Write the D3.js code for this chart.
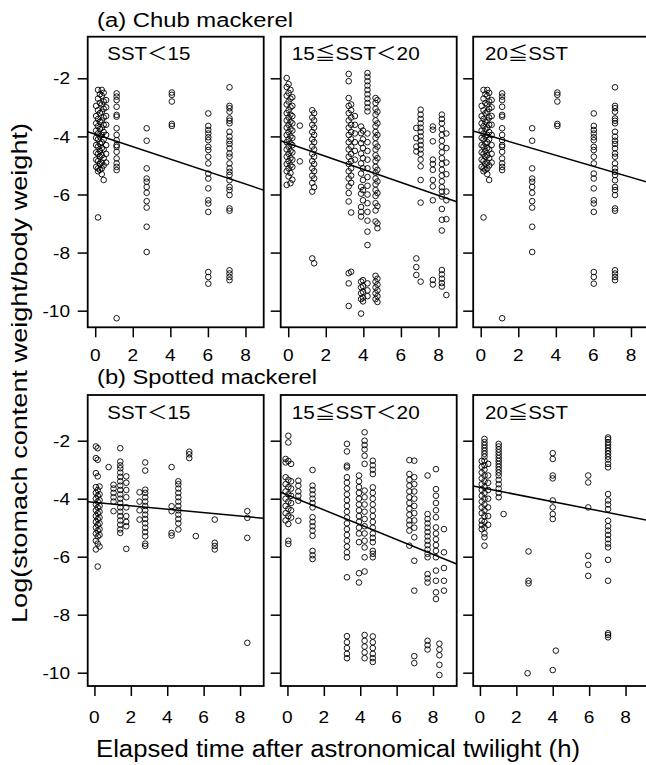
<!DOCTYPE html>
<html><head><meta charset="utf-8">
<script src="https://cdn.jsdelivr.net/npm/d3@7"></script>
<style>
body{margin:0;background:#fff}
svg{display:block}
text{font-family:"Liberation Sans",Arial,"Noto Sans CJK JP",sans-serif;fill:#000}
</style>
</head><body><svg id="c" width="646" height="765"></svg>
<script>
// ---------- data ----------
const timeTicks = [0, 2, 4, 6, 8];
const logTicks = [-2, -4, -6, -8, -10];
const sstLabels = ["SST＜15", "15≦SST＜20", "20≦SST"];
const speciesTitles = ["(a) Chub mackerel", "(b) Spotted mackerel"];
const xTitle = "Elapsed time after astronomical twilight (h)";
const yTitle = "Log(stomach content weight/body weight)";

// each entry: [elapsed time, [log ratios...]]
const chubLow = [
  [0.05, [-2.95,-3.3,-3.55,-3.8,-4.05,-4.3,-4.55,-4.8,-5.05]],
  [0.15, [-2.4,-2.7,-3.1,-3.4,-3.65,-3.9,-4.1,-4.35,-4.6,-4.85,-5.1,-5.2,-6.79]],
  [0.25, [-2.55,-2.85,-3.2,-3.5,-3.75,-4.0,-4.25,-4.5,-4.7,-4.95,-5.15]],
  [0.35, [-2.4,-2.6,-2.9,-3.15,-3.45,-3.7,-3.95,-4.2,-4.4,-4.65,-4.9,-5.1,-5.3]],
  [0.45, [-2.5,-2.8,-3.05,-3.35,-3.6,-3.85,-4.1,-4.45,-4.75,-5.0,-5.5]],
  [0.58, [-2.75,-3.0,-3.3,-3.6,-3.95,-4.3,-4.6,-4.9]],
  [1.14, [-2.52,-2.63,-2.75,-2.98,-3.26,-3.32,-3.72,-3.95,-4.13,-4.3,-4.36,-4.53,-4.76,-4.93,-5.05,-5.16,-10.26]],
  [2.74, [-3.72,-4.15,-5.1,-5.45,-5.56,-5.74,-5.94,-6.23,-6.45,-7.11,-7.98]],
  [4.08, [-2.49,-2.57,-2.8,-3.57,-3.64]],
  [6.02, [-3.21,-3.64,-3.78,-3.9,-4.03,-4.13,-4.36,-4.47,-4.7,-4.93,-5.28,-5.45,-5.79,-6.2,-6.31,-6.6,-8.67,-8.84,-9.07]],
  [7.15, [-2.31,-2.95,-3.03,-3.15,-3.38,-3.46,-3.55,-3.84,-4.01,-4.15,-4.26,-4.41,-4.59,-4.7,-4.93,-5.1,-5.22,-5.33,-5.51,-5.74,-5.85,-6.02,-6.48,-6.56,-8.61,-8.72,-8.84,-8.95]]
];
const chubMid = [
  [-0.08, [-1.99,-2.3,-2.6,-2.9,-3.2,-3.45,-3.7,-3.95,-4.2,-4.45,-4.7,-4.95,-5.2,-5.67]],
  [0.02, [-2.2,-2.5,-2.8,-3.1,-3.35,-3.6,-3.85,-4.1,-4.35,-4.6,-4.85,-5.1,-5.38]],
  [0.12, [-2.4,-2.7,-3.0,-3.25,-3.5,-3.75,-4.0,-4.25,-4.5,-4.75,-5.0,-5.26,-5.61]],
  [0.22, [-2.65,-2.95,-3.3,-3.55,-3.8,-4.05,-4.3,-4.55,-4.8,-5.05,-5.49]],
  [0.62, [-3.63,-4.86]],
  [1.28, [-3.1,-3.35,-3.6,-3.85,-4.1,-4.35,-4.6,-4.85,-5.1,-5.35,-5.6,-5.9,-8.2]],
  [1.38, [-3.2,-3.45,-3.7,-3.95,-4.2,-4.45,-4.7,-4.95,-5.2,-5.45,-5.75,-8.37]],
  [3.22, [-1.85,-2.1,-2.68,-2.95,-3.2,-3.45,-3.7,-3.95,-4.2,-4.45,-4.7,-4.95,-5.2,-5.45,-5.72,-5.95,-6.24,-8.71,-9.06,-9.84]],
  [3.35, [-2.9,-3.1,-3.35,-3.6,-3.85,-4.1,-4.35,-4.6,-4.85,-5.1,-5.35,-5.6,-6.62,-8.66]],
  [3.55, [-3.3,-3.6,-3.9,-4.2,-4.5,-4.8]],
  [3.88, [-3.66,-3.89,-4.23,-4.59,-4.93,-5.28,-5.74,-5.97,-6.43,-6.6,-6.76,-9.0,-9.2,-9.4,-9.6,-10.1]],
  [3.98, [-3.8,-4.1,-4.4,-4.75,-5.1,-5.5,-5.85,-6.2,-8.95,-9.15,-9.35,-9.55,-9.68]],
  [4.22, [-1.82,-1.95,-2.1,-2.25,-2.4,-2.55,-2.7,-2.85,-3.0,-3.14,-3.9,-4.2,-4.5,-4.8,-5.1,-5.4,-5.7,-6.0,-6.3,-6.6,-6.9,-7.28,-7.74,-9.06,-9.3,-9.5]],
  [4.65, [-2.68,-2.85,-3.05,-3.25,-3.45,-3.65,-3.85,-4.05,-4.25,-4.45,-4.65,-4.85,-5.05,-5.25,-5.45,-5.65,-5.85,-6.05,-6.3,-6.55,-6.93,-8.8,-9.0,-9.2,-9.4,-9.6]],
  [4.75, [-2.75,-3.15,-3.55,-3.95,-4.35,-4.75,-5.15,-5.55,-5.95,-6.4,-7.0,-7.16,-8.9,-9.1,-9.3,-9.5,-9.7]],
  [6.82, [-3.71,-4.06,-4.35,-4.52,-8.2,-8.5,-8.77]],
  [7.05, [-3.08,-3.25,-3.4,-3.55,-3.7,-3.85,-4.0,-4.15,-4.3,-4.45,-4.6,-4.8,-5.03,-5.5,-6.28,-9.0]],
  [7.7, [-3.66,-3.77,-4.17,-4.8,-4.95,-5.15,-5.5,-5.72,-6.2,-8.94,-9.1]],
  [8.18, [-3.25,-3.4,-3.55,-3.75,-3.95,-4.15,-4.35,-4.55,-4.75,-4.95,-5.15,-5.35,-5.55,-5.75,-5.9,-6.07,-6.5,-6.87,-7.24,-8.6,-8.75,-8.9,-9.05,-9.17]],
  [8.42, [-3.9,-4.4,-4.9,-5.3,-5.9,-6.2,-6.85,-9.46]]
];
// the source's 20≦SST chub panel shows the same points as SST<15
const chubHigh = chubLow;

const spottedLow = [
  [0.08, [-2.2,-2.6,-3.12,-3.6,-3.8,-4.0,-4.2,-4.4,-4.6,-4.8,-5.0,-5.2,-5.45,-5.75]],
  [0.18, [-2.26,-2.66,-3.23,-3.7,-3.9,-4.1,-4.3,-4.5,-4.7,-4.9,-5.1,-5.3,-5.55,-6.34]],
  [0.28, [-3.58,-3.85,-4.05,-4.25,-4.45,-4.65,-4.85,-5.05,-5.25,-5.65]],
  [0.78, [-2.91]],
  [1.05, [-3.52,-3.65,-3.8,-3.95,-4.1,-4.43]],
  [1.42, [-2.26,-2.72,-2.85,-2.95,-3.1,-3.25,-3.4,-3.55,-3.7,-3.85,-4.0,-4.15,-4.3,-4.45,-4.6,-4.75,-4.9,-5.06,-5.18]],
  [1.75, [-3.23,-3.45,-3.7,-3.95,-4.3,-4.6,-4.8,-4.95,-5.73]],
  [2.48, [-3.78,-4.1,-4.4,-4.72]],
  [2.79, [-2.75,-3.03,-3.69,-3.8,-3.95,-4.1,-4.25,-4.4,-4.55,-4.7,-4.85,-5.0,-5.15,-5.3,-5.55,-5.63]],
  [4.24, [-2.91,-4.26,-4.43,-5.18,-5.27]],
  [4.61, [-3.4,-3.5,-3.65,-3.8,-3.95,-4.1,-4.25,-4.4,-4.55,-4.7,-4.85,-5.06]],
  [5.21, [-2.38,-2.47,-2.6]],
  [5.57, [-5.29]],
  [6.61, [-4.72,-5.52,-5.63,-5.75]],
  [8.4, [-4.43,-4.66,-5.35,-8.97]]
];
const spottedMid = [
  [-0.1, [-2.63,-2.75,-3.26,-3.5,-3.75,-4.0,-4.25,-4.5,-4.75]],
  [0.05, [-1.83,-2.06,-2.7,-3.35,-3.6,-3.85,-4.1,-4.35,-4.6,-4.87,-5.45,-5.56]],
  [0.2, [-2.8,-3.4,-3.65,-3.9,-4.15,-4.4,-4.65]],
  [0.6, [-3.38,-3.55,-3.75,-3.9,-4.07,-4.76]],
  [1.38, [-3.01,-3.55,-3.7,-3.85,-4.0,-4.15,-4.3,-4.64,-4.8,-4.95,-5.1,-5.28,-5.8,-5.95,-6.08]],
  [3.27, [-2.11,-2.37,-2.86,-2.92,-3.26,-3.45,-3.65,-3.85,-4.05,-4.25,-4.45,-4.65,-4.85,-5.05,-5.25,-5.45,-5.65,-5.85,-6.02,-6.71,-8.74,-8.95,-9.15,-9.35,-9.5]],
  [3.93, [-3.2,-3.4,-3.6,-3.8,-4.0,-4.2,-4.4,-4.6,-4.8,-5.0,-5.2,-5.5,-6.57,-6.89]],
  [4.24, [-1.71,-2.0,-2.15,-2.3,-2.52,-2.8,-3.72,-3.95,-4.2,-4.45,-4.7,-4.95,-5.2,-5.45,-5.68,-6.02,-6.51,-8.7,-8.9,-9.1,-9.3,-9.5]],
  [4.69, [-2.69,-2.85,-3.0,-3.15,-3.61,-3.8,-4.0,-4.2,-4.4,-4.6,-4.8,-5.0,-5.2,-5.35,-5.5,-5.8,-5.9,-6.02,-8.75,-8.95,-9.15,-9.35,-9.5,-9.63]],
  [6.7, [-2.67,-3.15,-3.35,-3.55,-3.75,-3.95,-4.15,-4.35,-4.55,-4.75,-4.9,-5.1,-5.62]],
  [6.97, [-2.69,-3.26,-3.5,-3.75,-4.0,-4.25,-4.5,-4.75,-5.0,-5.33,-6.14,-7.17,-9.43,-9.67]],
  [7.7, [-3.2,-4.53,-4.7,-4.85,-5.0,-5.15,-5.3,-5.45,-5.6,-5.75,-5.9,-6.02,-6.6,-6.75,-6.89,-8.9,-9.05,-9.2]],
  [8.16, [-2.98,-3.67,-3.9,-4.15,-4.4,-4.64,-4.99,-5.2,-5.4,-5.6,-5.8,-6.02,-6.48,-6.83,-7.23,-7.46]],
  [8.35, [-9.0,-9.2,-9.4,-9.73,-10.08]],
  [8.6, [-5.05,-5.85,-6.39,-6.83,-7.17]]
];
const spottedHigh = [
  [0.1, [-2.7,-2.9,-3.1,-3.3,-3.5,-3.7,-3.9,-4.1,-4.3,-4.5,-4.76,-4.9,-5.05]],
  [0.25, [-1.94,-2.05,-2.15,-2.25,-2.35,-2.45,-2.55,-2.69,-2.85,-3.0,-3.2,-3.4,-3.6,-3.8,-4.0,-4.2,-4.4,-4.6,-4.8,-5.0,-5.2,-5.33,-5.62]],
  [0.45, [-2.8,-3.2,-3.45,-3.7,-4.0,-4.3,-4.6,-4.9]],
  [1.03, [-2.11,-2.2,-2.3,-2.4,-2.5,-2.6,-2.7,-2.8,-2.9,-3.0,-3.1,-3.2,-3.35,-3.5,-3.65,-3.8,-3.95]],
  [1.3, [-4.53]],
  [2.62, [-10.02]],
  [2.67, [-5.82,-6.83,-6.92]],
  [4.0, [-2.43,-2.63,-3.2,-3.3,-4.06,-4.3,-4.53,-4.7,-9.91]],
  [4.17, [-9.24]],
  [5.95, [-3.2,-3.44,-4.3,-5.97,-6.28,-6.66]],
  [7.04, [-1.89,-1.95,-2.05,-2.15,-2.25,-2.35,-2.45,-2.55,-2.65,-2.8,-2.92,-3.84,-4.06,-4.2,-4.36,-4.76,-4.95,-5.1,-5.25,-5.4,-5.55,-5.68,-6.11,-6.83,-8.64,-8.7,-8.78]]
];
// fitted lines: [intercept, slope]
const chubFit = [[-3.926, -0.2145], [-4.238, -0.2241], [-3.890, -0.1897]];
const spottedFit = [[-4.125, -0.0593], [-3.874, -0.2557], [-3.608, -0.1238]];

// ---------- layout ----------
const svg = d3.select("#c");
const colLefts = [87.7, 280.7, 473.2];
const panelW = 176;
const rows = [
  {top: 36.7, bottom: 327.3, xDom: [-0.4, 8.97], yDom: [-10.572, -0.568], tickBase: 361, data: [chubLow, chubMid, chubHigh], fit: chubFit, titleY: 27},
  {top: 395, bottom: 686, xDom: [-0.37, 9.3], yDom: [-10.459, -0.424], tickBase: 723, data: [spottedLow, spottedMid, spottedHigh], fit: spottedFit, titleY: 383.5}
];
const labelOffsets = [19.6, 11, 11.8];
const labelWidths = [83, 128, 83];
const stretch = 1.12;

function stretchText(sel, factor) {
  sel.each(function() {
    const w = this.getComputedTextLength();
    d3.select(this).attr("textLength", w * factor).attr("lengthAdjust", "spacingAndGlyphs");
  });
}

rows.forEach((row, ri) => {
  // species title
  svg.append("text").attr("x", 97).attr("y", row.titleY)
    .attr("font-size", 20).text(speciesTitles[ri])
    .attr("textLength", ri === 0 ? 196 : 220).attr("lengthAdjust", "spacingAndGlyphs");

  colLefts.forEach((left, ci) => {
    const x = d3.scaleLinear().domain(row.xDom).range([left, left + panelW]);
    const y = d3.scaleLinear().domain(row.yDom).range([row.bottom, row.top]);
    const id = `clip${ri}${ci}`;
    svg.append("clipPath").attr("id", id).append("rect")
      .attr("x", left).attr("y", row.top).attr("width", panelW).attr("height", row.bottom - row.top);
    const g = svg.append("g").attr("clip-path", `url(#${id})`);

    const pts = row.data[ci].flatMap(([t, ys]) => ys.map(v => [t, v]));
    g.selectAll("circle").data(pts).join("circle")
      .attr("cx", d => x(d[0])).attr("cy", d => y(d[1])).attr("r", 2.8)
      .attr("fill", "none").attr("stroke", "#000").attr("stroke-width", 0.9);

    const [a, b] = row.fit[ci];
    g.append("line")
      .attr("x1", x(row.xDom[0])).attr("y1", y(a + b * row.xDom[0]))
      .attr("x2", x(row.xDom[1])).attr("y2", y(a + b * row.xDom[1]))
      .attr("stroke", "#000").attr("stroke-width", 1.5);

    // box
    svg.append("rect").attr("x", left).attr("y", row.top)
      .attr("width", panelW).attr("height", row.bottom - row.top)
      .attr("fill", "none").attr("stroke", "#000").attr("stroke-width", 1.8);

    // x axis
    const xa = svg.append("g").attr("transform", `translate(0,${row.bottom})`)
      .call(d3.axisBottom(x).tickValues(timeTicks).tickSize(10).tickFormat(""));
    xa.select(".domain").remove();
    xa.selectAll(".tick line").attr("stroke-width", 1.5);
    svg.append("g").selectAll("text").data(timeTicks).join("text")
      .attr("x", d => x(d)).attr("y", row.tickBase).attr("text-anchor", "middle")
      .attr("font-size", 17).text(d => d)
      .call(stretchText, stretch);

    // y axis
    const ya = svg.append("g").attr("transform", `translate(${left},0)`)
      .call(d3.axisLeft(y).tickValues(logTicks).tickSize(10).tickFormat(""));
    ya.select(".domain").remove();
    ya.selectAll(".tick line").attr("stroke-width", 1.5);
    if (ci === 0) {
      svg.append("g").selectAll("text").data(logTicks).join("text")
        .attr("x", left - 17.7).attr("y", d => y(d)).attr("dy", "0.36em")
        .attr("text-anchor", "end").attr("font-size", 17).text(d => d)
        .call(stretchText, stretch);
    }

    // SST label
    svg.append("text").attr("x", left + labelOffsets[ci]).attr("y", row.top + 23.5)
      .attr("font-size", 18.5).text(sstLabels[ci])
      .attr("textLength", labelWidths[ci]).attr("lengthAdjust", "spacingAndGlyphs");
  });
});

// axis titles
svg.append("text").attr("x", 96).attr("y", 757).attr("font-size", 23)
  .attr("textLength", 484).attr("lengthAdjust", "spacingAndGlyphs").text(xTitle);
svg.append("text").attr("transform", "translate(26.7,373) rotate(-90)")
  .attr("text-anchor", "middle").attr("font-size", 22)
  .attr("textLength", 500).attr("lengthAdjust", "spacingAndGlyphs").text(yTitle);
</script>
</body></html>
